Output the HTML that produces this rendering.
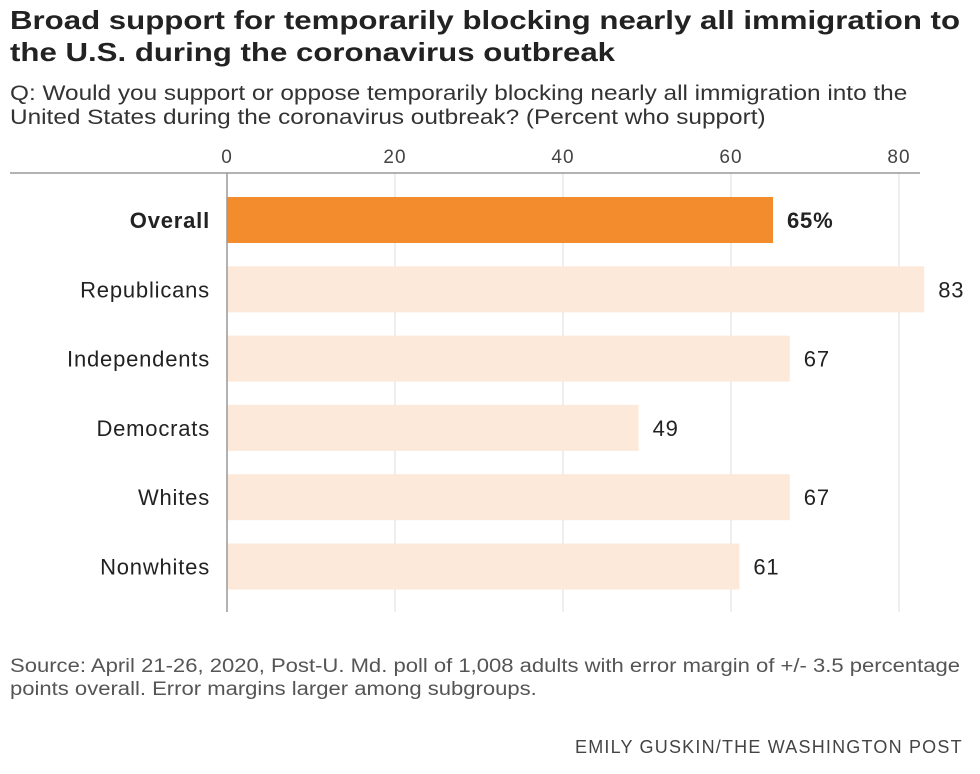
<!DOCTYPE html>
<html><head><meta charset="utf-8"><style>
body{margin:0;background:#fff;font-family:"Liberation Sans",sans-serif;color:#222;}
#wrap{position:relative;width:980px;height:774px;overflow:hidden;}
.t{position:absolute;white-space:nowrap;transform-origin:0 0;}
</style></head><body>
<div id="wrap">
<div class="t" style="left:10px;top:4px;font-size:26px;font-weight:bold;line-height:32px;color:#222;transform:scaleX(1.2);">Broad support for temporarily blocking nearly all immigration to<br>the U.S. during the coronavirus outbreak</div>
<div class="t" style="left:10px;top:82px;font-size:21px;line-height:24px;color:#333;transform:scaleX(1.16);">Q: Would you support or oppose temporarily blocking nearly all immigration into the<br>United States during the coronavirus outbreak? (Percent who support)</div>
<svg id="chart" width="980" height="640" style="position:absolute;left:0;top:0"></svg>
<div class="t" style="left:10px;top:655px;font-size:19px;line-height:23px;color:#555;transform:scaleX(1.16);">Source: April 21-26, 2020, Post-U. Md. poll of 1,008 adults with error margin of +/- 3.5 percentage<br>points overall. Error margins larger among subgroups.</div>
<div class="t" style="left:575px;top:737px;font-size:18px;color:#444;letter-spacing:1.2px;">EMILY GUSKIN/THE WASHINGTON POST</div>
</div>
<script>
const categories=["Overall","Republicans","Independents","Democrats","Whites","Nonwhites"];
const values=[65,83,67,49,67,61];
const valueLabels=["65%","83","67","49","67","61"];
const ticks=[0,20,40,60,80];
const svg=document.getElementById('chart');
const NS='http://www.w3.org/2000/svg';
const x=v=>227+v*8.4;
const y=i=>197+i*69.3;
const bh=46;
function mk(tag,attrs){const e=document.createElementNS(NS,tag);for(const k in attrs)e.setAttribute(k,attrs[k]);svg.appendChild(e);return e;}
ticks.forEach(t=>{
  if(t>0){const g=mk('line',{x1:x(t),x2:x(t),y1:173,y2:612,stroke:'#ddd','stroke-width':1});
  
  }
  const l=mk('text',{x:x(t),y:163,'text-anchor':'middle','font-size':19,fill:'#444','letter-spacing':1,'font-family':'Liberation Sans, sans-serif'});
  l.textContent=t;
  
  
});
categories.forEach((c,i)=>{
  const b=mk('rect',{x:x(0),y:y(i),width:x(values[i])-x(0),height:bh,fill:i===0?'#f28c2c':'#fde9da'});
  
  
  const l=mk('text',{x:210,y:y(i)+bh/2+8,'text-anchor':'end','font-size':22,'letter-spacing':0.8,fill:'#222','font-weight':i===0?'bold':'normal','font-family':'Liberation Sans, sans-serif'});
  l.textContent=c;
  
  
  const v=mk('text',{x:x(values[i])+14,y:y(i)+bh/2+8,'font-size':22,'letter-spacing':0.8,fill:'#222','font-weight':i===0?'bold':'normal','font-family':'Liberation Sans, sans-serif'});
  v.textContent=valueLabels[i];
  
  
});
const ax=mk('line',{x1:10,x2:920,y1:173,y2:173,stroke:'#999','stroke-width':1.5});


const ay=mk('line',{x1:x(0),x2:x(0),y1:173,y2:612,stroke:'#999','stroke-width':1.5});


</script>
</body></html>
